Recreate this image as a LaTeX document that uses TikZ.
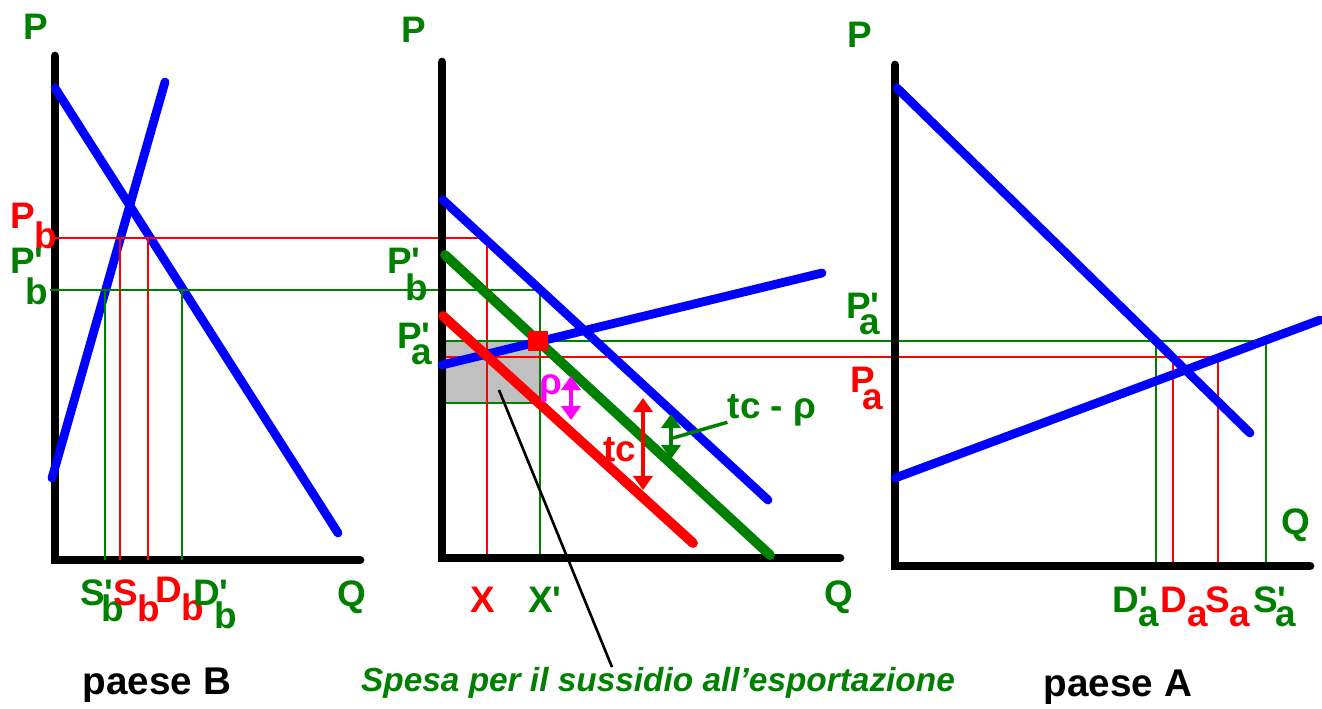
\documentclass[tikz,border=0pt]{standalone}
\usepackage{fontspec}
\setmainfont{Liberation Sans}
\usetikzlibrary{arrows.meta}

\definecolor{dkgreen}{RGB}{0,128,0}
\definecolor{ablue}{RGB}{0,0,255}
\definecolor{ared}{RGB}{255,0,0}
\definecolor{amag}{RGB}{255,0,255}
\definecolor{agray}{RGB}{192,192,192}

% lowered index letter and straight prime
\newcommand{\lo}[2][0.5em]{\raisebox{-#1}{#2}}
\newcommand{\pr}{\textquotesingle}

\begin{document}
\begin{tikzpicture}[x=0.02cm, y=-0.02cm,
    axis/.style={line width=5pt, line cap=round},
    curve/.style={line width=5pt, ablue, line cap=round},
    shifted/.style={line width=5.6pt, line cap=round},
    guide/.style={line width=1.5pt},
    lab/.style={font=\fontsize{21}{22}\selectfont\bfseries, inner sep=0pt, anchor=base west},
    title/.style={font=\fontsize{22}{24}\selectfont\bfseries, inner sep=0pt},
    dbl/.style={{Triangle[length=8pt,width=11pt]}-{Triangle[length=8pt,width=11pt]}, line width=1.8pt}]
  \useasboundingbox (0,0) rectangle (1322,708);

  % paese B
  \draw[axis] (55,56) -- (55,560) -- (360,560);
  \draw[curve] (55,88) -- (338,533);
  \draw[curve] (52,478) -- (165,82);
  \draw[guide, dkgreen] (105,290) -- (105,560);
  \draw[guide, dkgreen] (182,290) -- (182,560);
  \draw[guide, ared] (120,238) -- (120,560);
  \draw[guide, ared] (148,238) -- (148,560);
  \node[lab, dkgreen] (pB) at (23,39) {P};
  \node[lab, ared] (PbL) at (10,228) {P\lo[0.55em]{b}};
  \node[lab, dkgreen] (PbpL) at (10,273) {P\pr\kern-0.5em\lo[0.85em]{b}};
  \node[lab, dkgreen] (Sbp) at (80,605) {S\pr\kern-0.33em\lo[0.44em]{b}};
  \node[lab, ared] (Sb) at (113,605) {S\lo[0.44em]{b}};
  \node[lab, ared] (Db) at (155,602) {D\lo[0.5em]{b}};
  \node[lab, dkgreen] (Dbp) at (193,605) {D\pr\kern-0.4em\lo[0.64em]{b}};
  \node[lab, dkgreen, anchor=center] (qB) at (352,597) {Q};
  \node[title] (nameB) at (157,685) {paese B};

  % mercato mondiale
  \fill[agray] (445,341) rectangle (540,403);
  \draw[guide, dkgreen] (445,403) -- (540,403);
  \draw[guide, ared] (55,238) -| (487,558);
  \draw[guide, dkgreen] (50,290) -| (540,558);
  \draw[guide, dkgreen] (445,341) -| (1266,565);
  \draw[guide, ared] (438,357) -| (1218,565);
  \draw[guide, dkgreen] (1156,341) -- (1156,565);
  \draw[guide, ared] (1173,357) -- (1173,565);
  \draw[axis] (442,62) -- (442,558) -- (840,558);
  \draw[curve] (443,200) -- (768,500);
  \draw[curve] (442,365) -- (822,273);
  \draw[shifted, dkgreen] (445,255) -- (770,555);
  \draw[shifted, ared] (443,316) -- (693,543);
  \node[fill=ared, minimum size=0.4cm, inner sep=0pt] (eq) at (538,341) {};
  \coordinate (rhoTop) at (571,376);
  \coordinate (rhoBot) at (571,420);
  \coordinate (tcTop) at (643,398);
  \coordinate (tcBot) at (643,490);
  \coordinate (tcrTop) at (671,414);
  \coordinate (tcrBot) at (671,459);
  \coordinate (tcrMid) at (673,438);
  \coordinate (subsidy) at (499,390);
  \draw[dbl, amag] (rhoTop) -- (rhoBot);
  \draw[dbl, ared] (tcTop) -- (tcBot);
  \draw[dbl, dkgreen] (tcrTop) -- (tcrBot);
  \node[lab, dkgreen] (pW) at (401,42) {P};
  \node[lab, dkgreen] (PbpM) at (387,273) {P\pr\kern-0.4em\lo[0.75em]{b}};
  \node[lab, dkgreen] (PapM) at (397,348) {P\pr\kern-0.52em\lo[0.45em]{a}};
  \node[lab, amag, anchor=center] (rho) at (551,388) {ρ};
  \node[lab, ared, anchor=center] (tc) at (620,450) {tc};
  \node[lab, dkgreen, anchor=center] (tcr) at (772,410) {tc - ρ};
  \draw[line width=2pt, dkgreen] (tcr.south west) ++(0,-4) -- (tcrMid);
  \node[lab, ared, anchor=center] (xq) at (483,600) {X};
  \node[lab, dkgreen, anchor=center] (xqp) at (545,600) {X\pr};
  \node[lab, dkgreen, anchor=center] (qW) at (839,597) {Q};
  \node[font=\fontsize{19}{21}\selectfont\bfseries\itshape, dkgreen, inner sep=0pt]
    (cap) at (658,683) {Spesa per il sussidio all’esportazione};
  \draw[line width=1.5pt] (subsidy) -- (cap.north -| 612,0);

  % paese A
  \draw[axis] (895,65) -- (895,566) -- (1310,566);
  \draw[curve] (897,88) -- (1250,433);
  \draw[curve] (895,478) -- (1320,320);
  \node[lab, dkgreen] (pA) at (847,47) {P};
  \node[lab, dkgreen] (PapR) at (846,318) {P\pr\kern-0.55em\lo[0.45em]{a}};
  \node[lab, ared] (PaR) at (850,392) {P\kern-0.33em\lo[0.47em]{a}};
  \node[lab, dkgreen] (Dap) at (1112,612) {D\pr\kern-0.24em\lo[0.38em]{a}};
  \node[lab, ared] (Da) at (1160,612) {D\lo[0.38em]{a}};
  \node[lab, ared] (Sa) at (1205,612) {S\lo[0.38em]{a}};
  \node[lab, dkgreen] (Sap) at (1253,612) {S\pr\kern-0.3em\lo[0.38em]{a}};
  \node[lab, dkgreen, anchor=center] (qA) at (1296,525) {Q};
  \node[title] (nameA) at (1118,687) {paese A};
\end{tikzpicture}
\end{document}
